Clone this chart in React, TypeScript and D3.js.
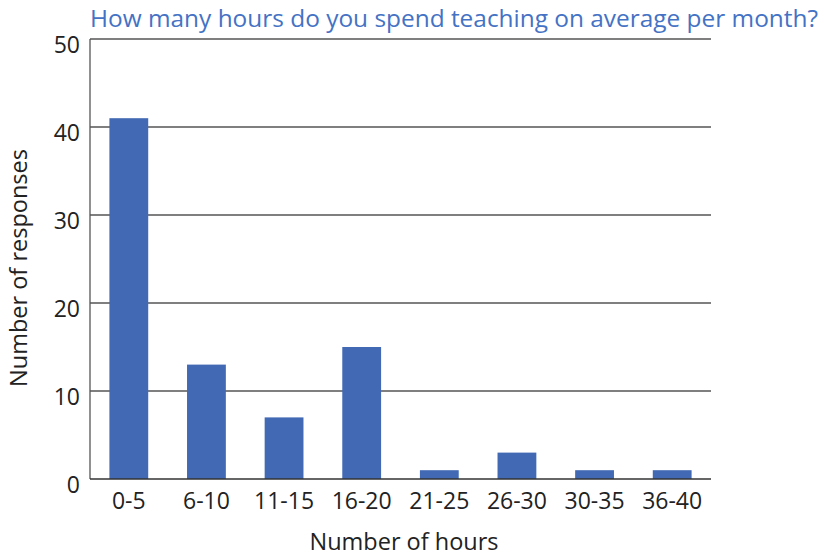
import React from "react";
import * as d3 from "d3";

const categories = ["0-5", "6-10", "11-15", "16-20", "21-25", "26-30", "30-35", "36-40"];
const values = [41, 13, 7, 15, 1, 3, 1, 1];
const yTicks = [0, 10, 20, 30, 40, 50];
const title = "How many hours do you spend teaching on average per month?";

export default function App() {
  const W = 824, H = 559;
  const left = 90, right = 711, top = 39, bottom = 479;
  const x = d3.scaleBand<string>().domain(categories).range([left, right]).paddingInner(0.5).paddingOuter(0.25);
  const y = d3.scaleLinear().domain([0, 50]).range([bottom, top]);
  const font = "'Open Sans', sans-serif";
  return (
    <svg width={W} height={H} style={{ position: "absolute", left: 0, top: 0 }}>
      <rect width={W} height={H} fill="#fff" />
      <text x={90} y={27} fontFamily={font} fontSize={23.5} fill="#4472C4" textLength={728} lengthAdjust="spacingAndGlyphs">{title}</text>
      {yTicks.filter(t => t > 0).map(t => (
        <line key={t} x1={left} x2={right} y1={y(t)} y2={y(t)} stroke="#555" strokeWidth={1.3} />
      ))}
      {categories.map((c, i) => (
        <rect key={c} x={x(c)} y={y(values[i])} width={x.bandwidth()} height={y(0) - y(values[i])} fill="#4169B4" />
      ))}
      <line x1={left} x2={left} y1={top} y2={bottom} stroke="#555" strokeWidth={1.3} />
      <line x1={left} x2={right} y1={bottom} y2={bottom} stroke="#333" strokeWidth={1.3} />
      {yTicks.map(t => (
        <text key={t} x={80} y={y(t) + 14} textAnchor="end" fontFamily={font} fontSize={23} fill="#222">{t}</text>
      ))}
      {categories.map(c => (
        <text key={c} x={(x(c) ?? 0) + x.bandwidth() / 2} y={509} textAnchor="middle" fontFamily={font} fontSize={23} fill="#222">{c}</text>
      ))}
      <text x={404} y={550} textAnchor="middle" fontFamily={font} fontSize={23.5} fill="#222">Number of hours</text>
      <text transform="translate(27,268) rotate(-90)" textAnchor="middle" fontFamily={font} fontSize={23.5} fill="#222">Number of responses</text>
    </svg>
  );
}
